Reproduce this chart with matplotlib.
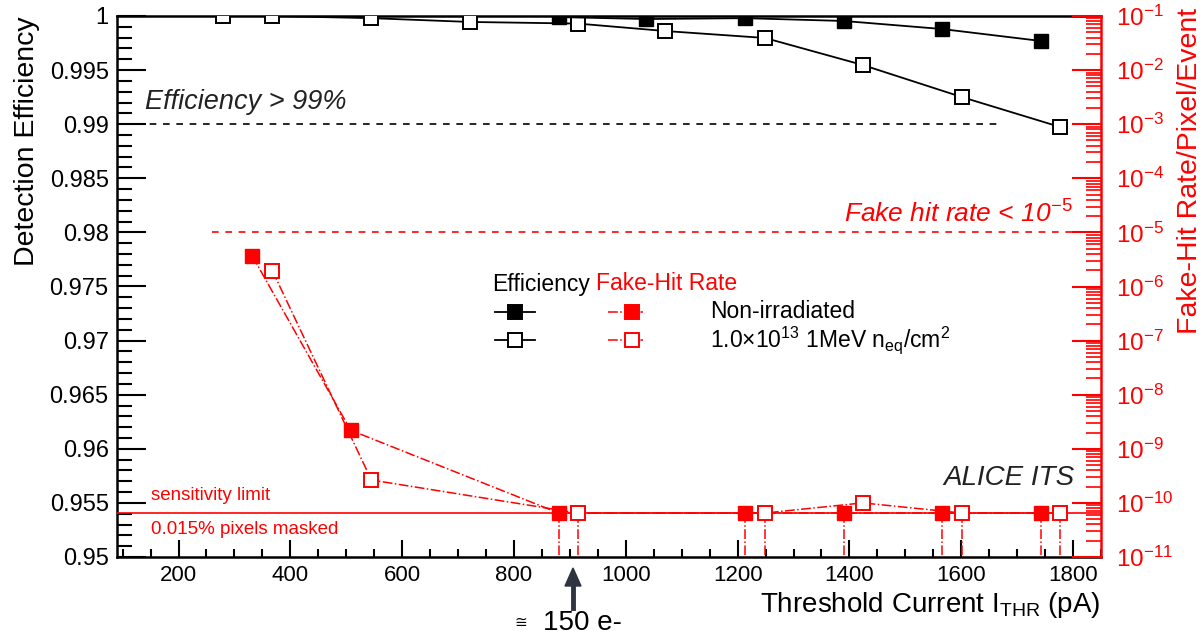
import numpy as np
import matplotlib
matplotlib.use("Agg")
import matplotlib.pyplot as plt
from matplotlib.lines import Line2D
from matplotlib.ticker import MultipleLocator, LogLocator, NullFormatter

plt.rcParams['font.family'] = ['Liberation Sans', 'DejaVu Sans']
plt.rcParams['mathtext.fontset'] = 'custom'
plt.rcParams['mathtext.rm'] = 'Liberation Sans'
plt.rcParams['mathtext.it'] = 'Liberation Sans:italic'

# efficiency, non-irradiated (filled) and irradiated (open)
thr_eff_ni = [880, 1037, 1213, 1390, 1565, 1743]
eff_ni = [0.99990, 0.99972, 0.99980, 0.99954, 0.99880, 0.99769]
thr_eff_irr = [280, 368, 545, 721, 914, 1071, 1249, 1424, 1601, 1777]
eff_irr = [1.0, 1.0, 0.99980, 0.99945, 0.99930, 0.99861, 0.99797, 0.99547, 0.99251, 0.98974]

# fake-hit rate
thr_fhr_ni = [332, 508, 880, 1213, 1390, 1565, 1743]
fhr_ni = [3.66e-6, 2.2e-9, 6.5e-11, 6.5e-11, 6.5e-11, 6.5e-11, 6.5e-11]
thr_fhr_irr = [368, 545, 914, 1249, 1424, 1601, 1777]
fhr_irr = [1.95e-6, 2.65e-10, 6.5e-11, 6.5e-11, 1.0e-10, 6.5e-11, 6.5e-11]
sens_limit = 6.5e-11

W, H = 1204, 637
fig = plt.figure(figsize=(W / 100, H / 100), dpi=100)
ax = fig.add_axes([117 / W, 1 - 557 / H, (1101 - 117) / W, (557 - 16) / H])
ax2 = ax.twinx()

def fx(px):
    return px / W

def fy(py):
    return 1 - py / H

red = '#ff0000'

# --- left axis: efficiency
ax.set_xlim(90, 1850)
ax.set_ylim(0.95, 1.0)
ax.plot(thr_eff_ni, eff_ni, '-', color='k', lw=1.3, marker='s', ms=10,
        mfc='k', mec='k', zorder=6)
ax.plot(thr_eff_irr, eff_irr, '-', color='k', lw=1.3, marker='s', ms=10.5,
        mfc='white', mec='k', mew=1.4, zorder=5)
ax.plot([100, 1670], [0.99, 0.99], '--', color='k', lw=1.2, dashes=(4, 4))

ax.xaxis.set_major_locator(MultipleLocator(200))
ax.xaxis.set_minor_locator(MultipleLocator(50))
ax.yaxis.set_major_locator(MultipleLocator(0.005))
ax.yaxis.set_minor_locator(MultipleLocator(0.001))
ax.yaxis.set_major_formatter(plt.FuncFormatter(lambda v, p: ('%g' % round(v, 3))))
ax.tick_params(axis='y', which='major', direction='in', length=21, width=1.5,
               labelsize=17, right=False, pad=6)
ax.tick_params(axis='y', which='minor', direction='in', length=11, width=1.5, right=False)
ax.tick_params(axis='x', which='major', direction='in', length=12, width=1.5,
               labelsize=16, top=False, pad=6)
ax.tick_params(axis='x', which='minor', direction='in', length=6, width=1.5, top=False)
for s in ['left', 'bottom', 'top']:
    ax.spines[s].set_linewidth(1.8)
ax.spines['right'].set_visible(False)

# --- right axis: fake-hit rate
ax2.set_yscale('log')
ax2.set_ylim(1e-11, 1e-1)
ax2.axhline(sens_limit, color=red, lw=1.2)
ax2.plot([260, 1850], [1e-5, 1e-5], '--', color=red, lw=1.2, dashes=(4, 4))
ax2.plot(thr_fhr_ni, fhr_ni, '-.', color=red, lw=1.1, marker='s', ms=10,
         mfc=red, mec=red, zorder=5)
ax2.plot(thr_fhr_irr, fhr_irr, '-.', color=red, lw=1.1, marker='s', ms=10.5,
         mfc='white', mec=red, mew=1.4, zorder=5)
for xs, ys in [(thr_fhr_ni, fhr_ni), (thr_fhr_irr, fhr_irr)]:
    for xv, yv in zip(xs, ys):
        if yv <= sens_limit * 1.01:
            ax2.plot([xv, xv], [yv, 1e-11], '-.', color=red, lw=1.1)

ax2.yaxis.set_major_locator(LogLocator(base=10, numticks=20))
ax2.yaxis.set_minor_locator(LogLocator(base=10, subs=np.arange(2, 10), numticks=20))
ax2.yaxis.set_minor_formatter(NullFormatter())
ax2.tick_params(axis='y', which='major', direction='in', length=21, width=1.5,
                labelsize=17.5, colors=red, pad=11)
ax2.tick_params(axis='y', which='minor', direction='in', length=11, width=1.2, colors=red)
ax2.spines['right'].set_color(red)
ax2.spines['right'].set_linewidth(1.8)
for s in ['left', 'bottom', 'top']:
    ax2.spines[s].set_visible(False)

# --- texts
fig.text(fx(145), fy(102), 'Efficiency > 99%', fontsize=19.5, style='italic',
         ha='left', va='center', color='#222222')
fig.text(fx(1073), fy(214), r'Fake hit rate < 10$^{\mathit{-5}}$', fontsize=19,
         style='italic', ha='right', va='center', color=red)
fig.text(fx(1075), fy(478), 'ALICE ITS', fontsize=20, style='italic',
         ha='right', va='center', color='#222222')
fig.text(fx(151), fy(496), 'sensitivity limit', fontsize=13.5, color=red,
         ha='left', va='center')
fig.text(fx(151), fy(529), '0.015% pixels masked', fontsize=13.5, color=red,
         ha='left', va='center')

fig.text(fx(27), fy(16), 'Detection Efficiency', fontsize=20.5, rotation=90,
         ha='center', va='top')
fig.text(fx(1190), fy(8), 'Fake-Hit Rate/Pixel/Event', fontsize=20.5, rotation=90,
         ha='center', va='top', color=red)
fig.text(fx(1101), fy(612), r'Threshold Current I$_{\mathrm{THR}}$ (pA)', fontsize=20,
         ha='right', va='baseline')

# arrow marking 150 e-
fig.add_artist(plt.Line2D([fx(573), fx(573)], [fy(608), fy(585)], color='#2e3440',
                          lw=3.5, transform=fig.transFigure))
fig.patches.append(plt.Polygon([[fx(565), fy(586)], [fx(581), fy(586)], [fx(573), fy(568)]],
                               closed=True, color='#2e3440', transform=fig.transFigure,
                               figure=fig))
fig.text(fx(521), fy(623), '\u2245', fontsize=11, ha='center', va='center',
         family=['DejaVu Sans'])
fig.text(fx(543), fy(623), '150 e-', fontsize=20, ha='left', va='center')

# --- legend, drawn by hand
fig.text(fx(492), fy(284), 'Efficiency', fontsize=16.5, ha='left', va='center')
fig.text(fx(596), fy(284), 'Fake-Hit Rate', fontsize=16.5, ha='left', va='center', color=red)
rows = [(312, 'k', red, 'Non-irradiated'),
        (340, 'white', 'white', r'1.0$\times$10$^{13}$ 1MeV n$_{\mathrm{eq}}$/cm$^{2}$')]
for py, fc_black, fc_red, label in rows:
    fig.add_artist(Line2D([fx(495), fx(535)], [fy(py), fy(py)], color='k', lw=1.3,
                          transform=fig.transFigure))
    fig.add_artist(Line2D([fx(515)], [fy(py)], marker='s', ms=10, mfc=fc_black, mec='k',
                          mew=1.4, ls='none', transform=fig.transFigure))
    fig.add_artist(Line2D([fx(608), fx(643)], [fy(py), fy(py)], color=red, lw=1.1, ls='-.',
                          transform=fig.transFigure))
    fig.add_artist(Line2D([fx(632)], [fy(py)], marker='s', ms=10, mfc=fc_red, mec=red,
                          mew=1.4, ls='none', transform=fig.transFigure))
    fig.text(fx(710), fy(py), label, fontsize=16.5, ha='left', va='center')

fig.savefig('out.png', dpi=100)
